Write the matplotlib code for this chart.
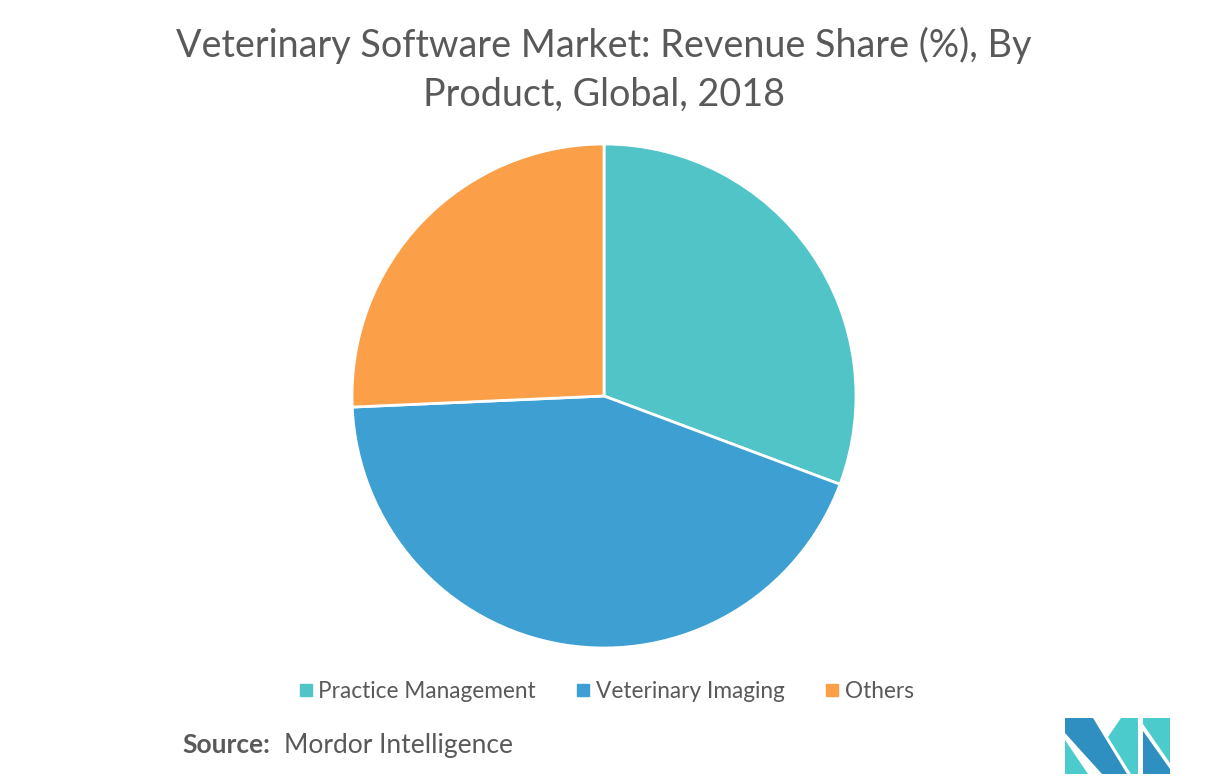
import matplotlib.pyplot as plt
from matplotlib.lines import Line2D
from matplotlib.patches import Polygon

labels = ['Practice Management', 'Veterinary Imaging', 'Others']
shares = [30.7, 43.6, 25.7]
colors = ['#50C4C6', '#3D9FD2', '#FB9F48']

plt.rcParams['font.family'] = ['Lato', 'DejaVu Sans']

fig = plt.figure(figsize=(12.08, 7.81), dpi=100)
fig.patch.set_facecolor('white')

# pie area: centre ~ (604, 396) px, radius ~252 px
ax = fig.add_axes([352/1208, 1 - 648/781, 504/1208, 504/781])
ax.pie(shares, colors=colors, startangle=90, counterclock=False,
       wedgeprops=dict(edgecolor='white', linewidth=2))
ax.set_aspect('equal')
ax.set_xlim(-1.0, 1.0)
ax.set_ylim(-1.0, 1.0)
ax.axis('off')

fig.text(0.5, 1 - 45/781, 'Veterinary Software Market: Revenue Share (%), By',
         ha='center', va='center', fontsize=27.2, color='#595959')
fig.text(0.5, 1 - 95/781, 'Product, Global, 2018',
         ha='center', va='center', fontsize=27.2, color='#595959')

handles = [Line2D([], [], marker='s', linestyle='', markersize=8,
                  markerfacecolor=c, markeredgecolor=c) for c in colors]
leg = fig.legend(handles, labels, loc='center', bbox_to_anchor=(0.5, 1 - 691/781),
                 ncol=3, frameon=False, fontsize=16.3, handletextpad=0.05,
                 columnspacing=1.6, handlelength=1.0)
for t in leg.get_texts():
    t.set_color('#595959')

fig.text(182/1208, 1 - 745/781, 'Source:', ha='left', va='center',
         fontsize=19, fontweight='bold', color='#595959')
fig.text(284/1208, 1 - 745/781, 'Mordor Intelligence', ha='left', va='center',
         fontsize=19, color='#595959')

# logo (pixel coordinates converted to figure fractions)
def px(pts):
    return [(x/1208, 1 - y/781) for x, y in pts]

logo = [
    ([(1065, 718), (1093, 718), (1127, 774), (1102, 774), (1065, 733)], '#2E8FC0'),
    ([(1065, 740), (1088, 774), (1065, 774)], '#4CCBCD'),
    ([(1121, 718), (1138, 718), (1138, 774), (1131, 774), (1108, 737)], '#4CCBCD'),
    ([(1143, 718), (1170, 718), (1170, 763), (1143, 724)], '#4CCBCD'),
    ([(1143, 731), (1170, 769), (1170, 774), (1143, 774)], '#2E8FC0'),
]
for pts, c in logo:
    fig.patches.append(Polygon(px(pts), closed=True, facecolor=c, edgecolor='none',
                               transform=fig.transFigure, figure=fig))

fig.savefig('out.png', dpi=100, facecolor='white')
